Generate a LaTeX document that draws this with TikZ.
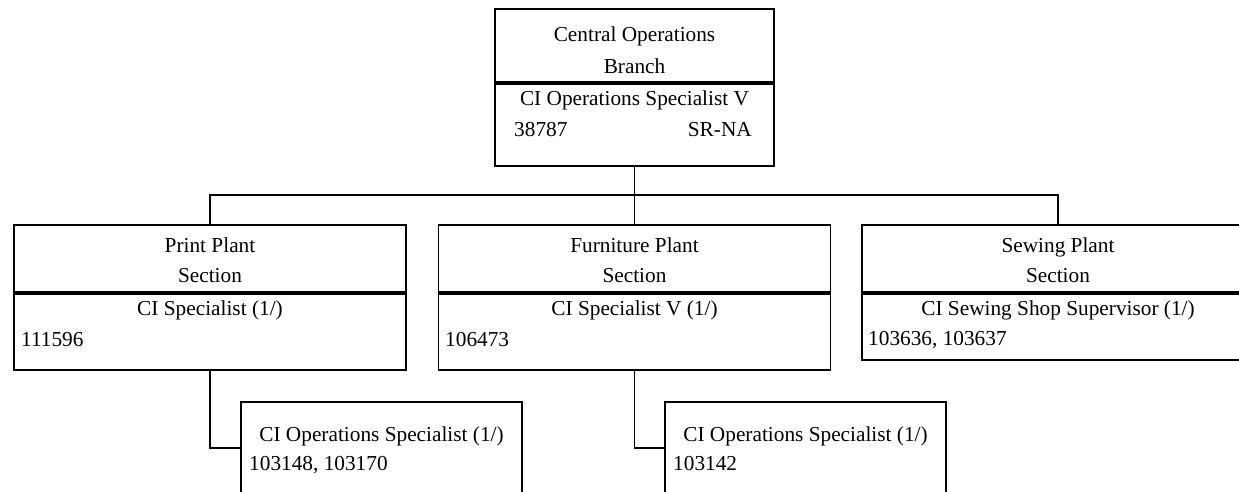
\documentclass[tikz,border=0pt]{standalone}
\usepackage{fontspec}
\setmainfont{Liberation Serif}
\usetikzlibrary{positioning}

\tikzset{
  box/.style={draw, line width=1.9pt, inner sep=0pt},
  txt/.style={inner sep=0pt, anchor=base},
  wire/.style={line width=1.9pt},
}

\begin{document}
\begin{tikzpicture}[x=1pt, y=-1pt, font=\fontsize{21.3}{26}\selectfont]
\useasboundingbox (0,0) rectangle (1239,492);
\clip (0,0) rectangle (1239,492);
% branch
\node[box, minimum width=279pt, minimum height=73pt] (cob) at (634.5,45.5) {};
\node[box, minimum width=279pt, minimum height=82pt, below=0pt of cob] (cobpost) {};
\node[txt] (cob1) at (634.5,42) {Central Operations};
\node[txt] (cob2) at (634.5,74) {Branch};
\node[txt] (cob3) at (634.5,106) {CI Operations Specialist V};
\node[txt, anchor=base west] (cob4) at (514,137) {38787};
\node[txt, anchor=base east] (cob5) at (752,137) {SR-NA};
% sections
\node[box, minimum width=392pt, minimum height=67pt] (print) at (210,258.5) {};
\node[box, minimum width=392pt, minimum height=76pt, below=0pt of print] (printpost) {};
\node[box, minimum width=392pt, minimum height=67pt] (furn) at (634.5,258.5) {};
\node[box, minimum width=392pt, minimum height=76pt, below=0pt of furn] (furnpost) {};
\node[box, minimum width=392pt, minimum height=67pt] (sew) at (1058,258.5) {};
\node[box, minimum width=392pt, minimum height=66pt, below=0pt of sew] (sewpost) {};
\node[txt] (print1) at (210,252) {Print Plant};
\node[txt] (print2) at (210,282) {Section};
\node[txt] (print3) at (210,315) {CI Specialist (1/)};
\node[txt, anchor=base west] (print4) at (21,346) {111596};
\node[txt] (furn1) at (634.5,252) {Furniture Plant};
\node[txt] (furn2) at (634.5,282) {Section};
\node[txt] (furn3) at (634.5,315) {CI Specialist V (1/)};
\node[txt, anchor=base west] (furn4) at (445,346) {106473};
\node[txt] (sew1) at (1058,252) {Sewing Plant};
\node[txt] (sew2) at (1058,282) {Section};
\node[txt] (sew3) at (1058,315) {CI Sewing Shop Supervisor (1/)};
\node[txt, anchor=base west] (sew4) at (868,345) {103636, 103637};
% operations posts
\node[box, minimum width=281pt, minimum height=92pt] (printops) at (381.5,448) {};
\node[box, minimum width=281pt, minimum height=92pt] (furnops) at (805.5,448) {};
\node[txt] (printops1) at (381.5,441) {CI Operations Specialist (1/)};
\node[txt, anchor=base west] (printops2) at (249,470) {103148, 103170};
\node[txt] (furnops1) at (805.5,441) {CI Operations Specialist (1/)};
\node[txt, anchor=base west] (furnops2) at (673,470) {103142};
% lines
\coordinate (bus) at (634.5,195);
\draw[wire] (cobpost.south) -- (bus);
\draw[wire] (print.north) |- (bus) -| (sew.north);
\draw[wire] (bus) -- (furn.north);
\draw[wire] (printpost.south) |- (printops.west);
\draw[wire] (furnpost.south) |- (furnops.west);
\end{tikzpicture}
\end{document}
